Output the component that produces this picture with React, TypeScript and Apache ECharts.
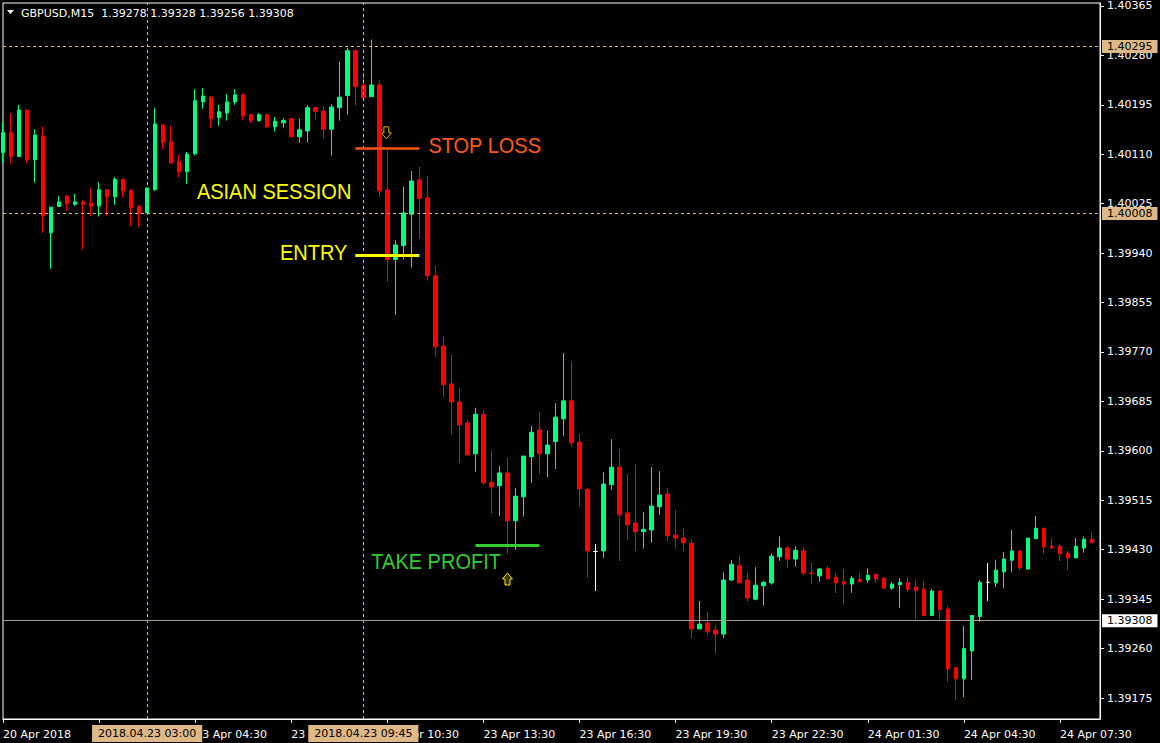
import * as echarts from 'echarts';
import { useEffect, useRef } from 'react';

// GBPUSD M15, one row per bar: [open, close, low, high]
const ohlc: number[][] = [
  [1.40113, 1.40147, 1.40095, 1.40165],
  [1.40147, 1.40106, 1.40094, 1.40181],
  [1.40106, 1.40186, 1.40106, 1.40195],
  [1.40186, 1.40101, 1.40095, 1.40186],
  [1.40101, 1.40143, 1.40061, 1.40153],
  [1.40141, 1.40004, 1.39975, 1.40157],
  [1.39975, 1.40019, 1.39913, 1.40019],
  [1.4002, 1.40028, 1.4002, 1.40038],
  [1.40038, 1.40025, 1.40013, 1.4004],
  [1.40024, 1.40028, 1.40021, 1.40042],
  [1.40028, 1.40024, 1.39946, 1.40031],
  [1.40026, 1.4002, 1.40003, 1.40052],
  [1.40021, 1.40049, 1.40003, 1.40062],
  [1.40049, 1.40037, 1.40004, 1.40049],
  [1.40037, 1.40067, 1.40023, 1.40071],
  [1.40067, 1.40047, 1.40037, 1.40067],
  [1.40047, 1.40018, 1.39987, 1.4005],
  [1.4002, 1.40008, 1.39985, 1.40023],
  [1.40009, 1.40052, 1.40009, 1.40052],
  [1.40049, 1.40162, 1.40047, 1.4019],
  [1.4016, 1.4013, 1.40118, 1.40162],
  [1.40131, 1.40095, 1.40095, 1.40159],
  [1.40097, 1.4008, 1.4007, 1.40109],
  [1.4008, 1.4011, 1.40059, 1.40114],
  [1.40111, 1.40202, 1.40108, 1.40222],
  [1.402, 1.4021, 1.40188, 1.40224],
  [1.40208, 1.40171, 1.40156, 1.4021],
  [1.40173, 1.40183, 1.40159, 1.40195],
  [1.40181, 1.402, 1.40168, 1.40214],
  [1.402, 1.40212, 1.40195, 1.40222],
  [1.40212, 1.40176, 1.40169, 1.40214],
  [1.40178, 1.40168, 1.40164, 1.40179],
  [1.40168, 1.40178, 1.40166, 1.40181],
  [1.40178, 1.40157, 1.40156, 1.40179],
  [1.40157, 1.40167, 1.40149, 1.40174],
  [1.40164, 1.40168, 1.40156, 1.40172],
  [1.40171, 1.4014, 1.4014, 1.40171],
  [1.4014, 1.40152, 1.4013, 1.40171],
  [1.4015, 1.4019, 1.4013, 1.40195],
  [1.4019, 1.40184, 1.4017, 1.4019],
  [1.40184, 1.40153, 1.40137, 1.40193],
  [1.40153, 1.40191, 1.40108, 1.40196],
  [1.4019, 1.40208, 1.40168, 1.40269],
  [1.40211, 1.40288, 1.40178, 1.40293],
  [1.40288, 1.40226, 1.40194, 1.4029],
  [1.40229, 1.40207, 1.40207, 1.40251],
  [1.40209, 1.40229, 1.40209, 1.40307],
  [1.40229, 1.40047, 1.40037, 1.40238],
  [1.40049, 1.39929, 1.39891, 1.40117],
  [1.39929, 1.39954, 1.39834, 1.39962],
  [1.39953, 1.40009, 1.39929, 1.40054],
  [1.40007, 1.40064, 1.39915, 1.40081],
  [1.40066, 1.40034, 1.39965, 1.40088],
  [1.40035, 1.39901, 1.39893, 1.40073],
  [1.39901, 1.39779, 1.39762, 1.39918],
  [1.3978, 1.39714, 1.39693, 1.39796],
  [1.39715, 1.39684, 1.39628, 1.39765],
  [1.39684, 1.39645, 1.39579, 1.39708],
  [1.39648, 1.39593, 1.39592, 1.39653],
  [1.39595, 1.39663, 1.39564, 1.39674],
  [1.39663, 1.39545, 1.39542, 1.3967],
  [1.39546, 1.39538, 1.39493, 1.39601],
  [1.3954, 1.39562, 1.39488, 1.39574],
  [1.39562, 1.3948, 1.39423, 1.39588],
  [1.3948, 1.39522, 1.3943, 1.39536],
  [1.39521, 1.39591, 1.39487, 1.39591],
  [1.3959, 1.39632, 1.39545, 1.39643],
  [1.39636, 1.39595, 1.39561, 1.39667],
  [1.39595, 1.3961, 1.39555, 1.39634],
  [1.39616, 1.39658, 1.39569, 1.39682],
  [1.39655, 1.39686, 1.39626, 1.39768],
  [1.39686, 1.39614, 1.39607, 1.39754],
  [1.39615, 1.39535, 1.39504, 1.39629],
  [1.39534, 1.39428, 1.39382, 1.39536],
  [1.39427, 1.39427, 1.39359, 1.3944],
  [1.39428, 1.39543, 1.39416, 1.39563],
  [1.39542, 1.39572, 1.39533, 1.3962],
  [1.39572, 1.3949, 1.39411, 1.39603],
  [1.39493, 1.39473, 1.39447, 1.3956],
  [1.39476, 1.39461, 1.39428, 1.39577],
  [1.39461, 1.39465, 1.39432, 1.39495],
  [1.39464, 1.39505, 1.39442, 1.39572],
  [1.39504, 1.39524, 1.3949, 1.39565],
  [1.39526, 1.39454, 1.39444, 1.39536],
  [1.39455, 1.3945, 1.39432, 1.39498],
  [1.3945, 1.39442, 1.39428, 1.39467],
  [1.39441, 1.39294, 1.39278, 1.39448],
  [1.39294, 1.39302, 1.39294, 1.39342],
  [1.39304, 1.3929, 1.39284, 1.39323],
  [1.39292, 1.39285, 1.39251, 1.393],
  [1.39285, 1.39378, 1.39278, 1.39391],
  [1.39378, 1.39405, 1.39376, 1.39412],
  [1.39403, 1.39373, 1.39373, 1.39419],
  [1.39378, 1.39347, 1.39342, 1.39391],
  [1.39345, 1.39369, 1.39343, 1.394],
  [1.39368, 1.39374, 1.39334, 1.39376],
  [1.39373, 1.39419, 1.3937, 1.39424],
  [1.39418, 1.39433, 1.39411, 1.39453],
  [1.39433, 1.39414, 1.39399, 1.39436],
  [1.39414, 1.39429, 1.39401, 1.39436],
  [1.39428, 1.3939, 1.39387, 1.39434],
  [1.3939, 1.39389, 1.39371, 1.39407],
  [1.39385, 1.39397, 1.39375, 1.39398],
  [1.39398, 1.3938, 1.3938, 1.39402],
  [1.39383, 1.39373, 1.39356, 1.3939],
  [1.39375, 1.39371, 1.39337, 1.39397],
  [1.39371, 1.39381, 1.39356, 1.39385],
  [1.39379, 1.39375, 1.39375, 1.3939],
  [1.39378, 1.39386, 1.39373, 1.39398],
  [1.39388, 1.3938, 1.39373, 1.39388],
  [1.39381, 1.39364, 1.39363, 1.39383],
  [1.39364, 1.39371, 1.39361, 1.39374],
  [1.3937, 1.39374, 1.3933, 1.39381],
  [1.39374, 1.39362, 1.39357, 1.39383],
  [1.39366, 1.3936, 1.39311, 1.39379],
  [1.39362, 1.39317, 1.39316, 1.39376],
  [1.39317, 1.39359, 1.39317, 1.39362],
  [1.39359, 1.39327, 1.39311, 1.3936],
  [1.39328, 1.39225, 1.39203, 1.39333],
  [1.39227, 1.39208, 1.39172, 1.39229],
  [1.39208, 1.3926, 1.39177, 1.39299],
  [1.39256, 1.39317, 1.39206, 1.39317],
  [1.39315, 1.39374, 1.39306, 1.39378],
  [1.39374, 1.39374, 1.39342, 1.39407],
  [1.39373, 1.39395, 1.39366, 1.39412],
  [1.39392, 1.39414, 1.39364, 1.39426],
  [1.39412, 1.39428, 1.39392, 1.39464],
  [1.39428, 1.39399, 1.39395, 1.39428],
  [1.39397, 1.3945, 1.39395, 1.3945],
  [1.39449, 1.39467, 1.39449, 1.39488],
  [1.39467, 1.39435, 1.39423, 1.39467],
  [1.39436, 1.39433, 1.39432, 1.3945],
  [1.39436, 1.39423, 1.39411, 1.3944],
  [1.39424, 1.39416, 1.39395, 1.39428],
  [1.39416, 1.39436, 1.39416, 1.3945],
  [1.39433, 1.39448, 1.39425, 1.39453],
  [1.39448, 1.39442, 1.39442, 1.3946],
];

// time axis labels, one every 12 bars (3 hours)
const tickLabels = [
  '20 Apr 2018', '23 Apr 01:30', '23 Apr 04:30', '23 Apr 07:30', '23 Apr 10:30', '23 Apr 13:30',
  '23 Apr 16:30', '23 Apr 19:30', '23 Apr 22:30', '24 Apr 01:30', '24 Apr 04:30', '24 Apr 07:30',
];
const priceTicks = [
  1.39175, 1.3926, 1.39345, 1.3943, 1.39515, 1.396, 1.39685, 1.3977,
  1.39855, 1.3994, 1.40025, 1.4011, 1.40195, 1.4028, 1.40365,
];
const quote = [1.39278, 1.39328, 1.39256, 1.39308];
const levels = [1.40295, 1.40008];
const bid = 1.39308;
const sessionMarks = [
  { bar: 18, label: '2018.04.23 03:00' },
  { bar: 45, label: '2018.04.23 09:45' },
];
const stopLoss = 1.40121;
const entry = 1.39936;
const takeProfit = 1.39438;

// bar times: Friday close then Monday 00:00 onwards
const categories: string[] = [];
for (let i = 0; i < 138; i++) {
  const mins = i < 6 ? 22 * 60 + 30 + i * 15 : (i - 6) * 15;
  const day = i < 6 ? 20 : 23 + Math.floor(mins / 1440);
  const m = mins % 1440;
  categories.push(
    `${day} Apr ${String(Math.floor(m / 60)).padStart(2, '0')}:${String(m % 60).padStart(2, '0')}`,
  );
}
const labelAt: Record<string, string> = {};
tickLabels.forEach((t, k) => {
  labelAt[categories[k * 12]] = t;
});

const FONT = 'DejaVu Sans';
const TAN = '#deb887';
const BULL = '#00ff80';
const BEAR = '#ff0000';

export default function App() {
  const ref = useRef<HTMLDivElement | null>(null);

  useEffect(() => {
    if (!ref.current) return;
    const chart = echarts.init(ref.current, null, { renderer: 'svg' });

    const white = { color: '#fff', color0: '#fff', borderColor: '#fff', borderColor0: '#fff' };
    const tagLabel = (text: string, bg: string) => ({
      show: true,
      position: 'end',
      distance: 2,
      formatter: text,
      color: '#000',
      backgroundColor: bg,
      padding: [1, 5],
      fontFamily: FONT,
      fontSize: 11,
    });
    const hLine = (v: number, color: string, type: any, bg: string) => [
      {
        coord: [0, v],
        lineStyle: { color, type, width: 1 },
        label: tagLabel(v.toFixed(5), bg),
      },
      { coord: [categories.length - 1, v] },
    ];
    const tradeLine = (price: number, from: number, to: number, color: string, width: number) => [
      { coord: [from, price], lineStyle: { color, width, type: 'solid' }, label: { show: false } },
      { coord: [to, price] },
    ];

    chart.setOption({
      animation: false,
      backgroundColor: '#000',
      grid: {
        left: 2,
        right: 60,
        top: 3,
        bottom: 24,
        show: true,
        borderColor: '#fff',
        borderWidth: 1,
      },
      xAxis: {
        type: 'category',
        data: categories,
        boundaryGap: false,
        axisLine: { lineStyle: { color: '#fff' } },
        axisTick: {
          show: true,
          length: 4,
          interval: (i: number) => i % 12 === 0,
          lineStyle: { color: '#fff' },
        },
        axisLabel: {
          interval: (i: number) => i % 12 === 0,
          formatter: (v: string) => labelAt[v] ?? '',
          align: 'left',
          color: '#fff',
          fontFamily: FONT,
          fontSize: 11,
          margin: 10,
        },
        splitLine: { show: false },
      },
      yAxis: {
        type: 'value',
        position: 'right',
        min: 1.39139,
        max: 1.4037,
        axisLine: { show: true, lineStyle: { color: '#fff' } },
        axisTick: { show: true, length: 4, customValues: priceTicks, lineStyle: { color: '#fff' } },
        axisLabel: {
          customValues: priceTicks,
          formatter: (v: number) => v.toFixed(5),
          color: '#fff',
          fontFamily: FONT,
          fontSize: 11,
          margin: 7,
        },
        splitLine: { show: false },
      },
      series: [
        {
          type: 'candlestick',
          silent: true,
          clip: false,
          barWidth: 4,
          data: ohlc.map((c) => (c[0] === c[1] ? { value: c, itemStyle: white } : c)),
          itemStyle: {
            color: BULL,
            color0: BEAR,
            borderColor: BULL,
            borderColor0: BEAR,
            borderWidth: 1,
          },
          markLine: {
            silent: true,
            symbol: 'none',
            animation: false,
            data: [
              ...levels.map((v) => hLine(v, TAN, [3, 3], TAN)),
              hLine(bid, '#a0a0a0', 'solid', '#fff'),
              ...sessionMarks.map((s) => ({
                xAxis: s.bar,
                lineStyle: { color: TAN, type: [3, 3], width: 1 },
                label: {
                  show: true,
                  position: 'start',
                  distance: 6,
                  formatter: s.label,
                  color: '#000',
                  backgroundColor: TAN,
                  padding: [3, 6],
                  fontFamily: FONT,
                  fontSize: 11,
                },
              })),
              tradeLine(stopLoss, 44, 52, '#ff5010', 2.5),
              tradeLine(entry, 44, 52, '#ffff00', 3),
              tradeLine(takeProfit, 59, 67, '#33cc33', 3),
            ],
          },
        },
      ],
    });

    const px = (i: number, p: number) => chart.convertToPixel({ gridIndex: 0 }, [i, p]) as number[];
    const note = (text: string, at: number[], dx: number, align: string, fill: string) => ({
      type: 'text',
      x: at[0] + dx,
      y: at[1],
      scaleY: 1.1,
      style: { text, fill, fontSize: 20, fontFamily: 'Liberation Sans', align, verticalAlign: 'middle' },
      silent: true,
    });
    const down = px(48, 1.40157);
    const up = px(63, 1.3939);

    chart.setOption({
      graphic: {
        elements: [
          {
            type: 'polygon',
            shape: { points: [[7, 10], [14, 10], [10.5, 14]] },
            style: { fill: '#fff' },
            silent: true,
          },
          {
            type: 'text',
            x: 21,
            y: 13,
            style: {
              text: `GBPUSD,M15  ${quote.map((v) => v.toFixed(5)).join(' ')}`,
              fill: '#fff',
              fontSize: 11,
              fontFamily: FONT,
              verticalAlign: 'middle',
            },
            silent: true,
          },
          note('ASIAN SESSION', px(44, 1.40047), -4, 'right', '#ffff00'),
          note('ENTRY', px(44, 1.39941), -8, 'right', '#ffff00'),
          note('STOP LOSS', px(53, 1.40126), 1, 'left', '#ff5a1a'),
          note('TAKE PROFIT', px(46, 1.39411), 0, 'left', '#33cc33'),
          {
            type: 'polygon',
            x: down[0] - 1,
            y: down[1],
            shape: { points: [[-2.5, 0], [2.5, 0], [2.5, 6], [5, 6], [0, 12], [-5, 6], [-2.5, 6]] },
            style: { fill: '#000', stroke: '#d8b000', lineWidth: 1 },
            silent: true,
          },
          {
            type: 'polygon',
            x: up[0],
            y: up[1],
            shape: { points: [[0, 0], [5, 6], [2.5, 6], [2.5, 12], [-2.5, 12], [-2.5, 6], [-5, 6]] },
            style: { fill: '#3a3a00', stroke: '#ffe000', lineWidth: 1 },
            silent: true,
          },
        ],
      },
    });

    return () => {
      chart.dispose();
    };
  }, []);

  return (
    <div
      ref={ref}
      style={{ position: 'fixed', left: 0, top: 0, width: 1160, height: 743, background: '#000' }}
    />
  );
}
